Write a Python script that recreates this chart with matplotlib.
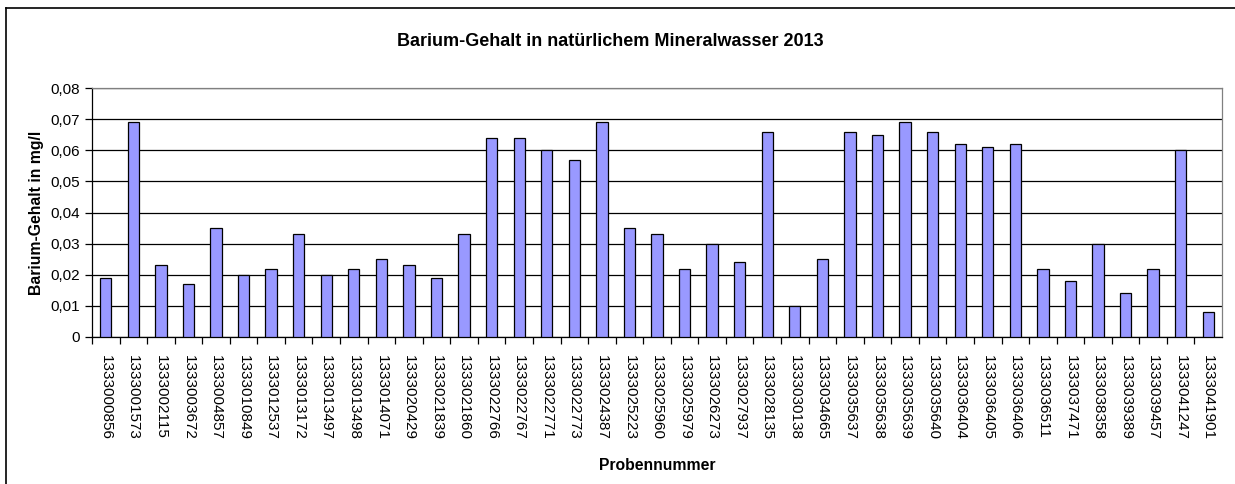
import matplotlib
matplotlib.use("Agg")
import matplotlib.pyplot as plt
from matplotlib.lines import Line2D
from matplotlib.ticker import FuncFormatter

plt.rcParams['font.family'] = ['Liberation Sans', 'DejaVu Sans']

samples = ["1333000856", "1333001573", "1333002115", "1333003672", "1333004857",
           "1333010849", "1333012537", "1333013172", "1333013497", "1333013498",
           "1333014071", "1333020429", "1333021839", "1333021860", "1333022766",
           "1333022767", "1333022771", "1333022773", "1333024387", "1333025223",
           "1333025960", "1333025979", "1333026273", "1333027937", "1333028135",
           "1333030138", "1333034665", "1333035637", "1333035638", "1333035639",
           "1333035640", "1333036404", "1333036405", "1333036406", "1333036511",
           "1333037471", "1333038358", "1333039389", "1333039457", "1333041247",
           "1333041901"]
barium = [0.019, 0.069, 0.023, 0.017, 0.035, 0.020, 0.022, 0.033, 0.020, 0.022,
          0.025, 0.023, 0.019, 0.033, 0.064, 0.064, 0.060, 0.057, 0.069, 0.035,
          0.033, 0.022, 0.030, 0.024, 0.066, 0.010, 0.025, 0.066, 0.065, 0.069,
          0.066, 0.062, 0.061, 0.062, 0.022, 0.018, 0.030, 0.014, 0.022, 0.060,
          0.008]
yticks = [0, 0.01, 0.02, 0.03, 0.04, 0.05, 0.06, 0.07, 0.08]

W, H = 1235, 484
fig = plt.figure(figsize=(W / 100, H / 100), dpi=100)
ax = fig.add_axes([92 / W, 1 - 337 / H, (1222 - 92) / W, (337 - 88) / H])

x = list(range(len(samples)))
ax.bar(x, barium, width=0.41, color="#9999FF", edgecolor="black", linewidth=0.9, zorder=3)

ax.set_xlim(-0.5, len(samples) - 0.5)
ax.set_ylim(0, 0.08)
ax.set_yticks(yticks)
ax.yaxis.set_major_formatter(FuncFormatter(lambda v, p: "0" if v == 0 else f"{v:.2f}".replace(".", ",")))
ax.yaxis.grid(True, color="black", linewidth=0.9, zorder=0)
ax.set_axisbelow(True)

ax.set_xticks([i + 0.5 for i in x[:-1]] + [-0.5], minor=False)
ax.set_xticklabels([])
ax.set_xticks(x, minor=True)
ax.set_xticklabels(samples, minor=True, rotation=270, fontsize=11)
ax.tick_params(axis="x", which="minor", length=0, pad=13)
ax.tick_params(axis="x", which="major", length=5, width=0.9, direction="out")
ax.tick_params(axis="y", length=5, width=0.9, labelsize=11, pad=4)

for s in ["left", "bottom"]:
    ax.spines[s].set_color("black")
    ax.spines[s].set_linewidth(0.9)
for s in ["top", "right"]:
    ax.spines[s].set_color("#808080")
    ax.spines[s].set_linewidth(0.9)

ax.set_ylabel("Barium-Gehalt in mg/l", fontsize=11.3, fontweight="bold", labelpad=4)
fig.text(0.5 * (92 + 1222) / W, 1 - 465 / H, "Probennummer", ha="center", va="center",
         fontsize=11.3, fontweight="bold")
fig.text(610 / W, 1 - 41 / H, "Barium-Gehalt in natürlichem Mineralwasser 2013",
         ha="center", va="center", fontsize=13, fontweight="bold")

fig.add_artist(Line2D([6 / W, 6 / W], [0, 1 - 8 / H], transform=fig.transFigure, color="black", linewidth=1.2))
fig.add_artist(Line2D([6 / W, 1], [1 - 8 / H, 1 - 8 / H], transform=fig.transFigure, color="black", linewidth=1.2))

fig.savefig("out.png", dpi=100, facecolor="white")
